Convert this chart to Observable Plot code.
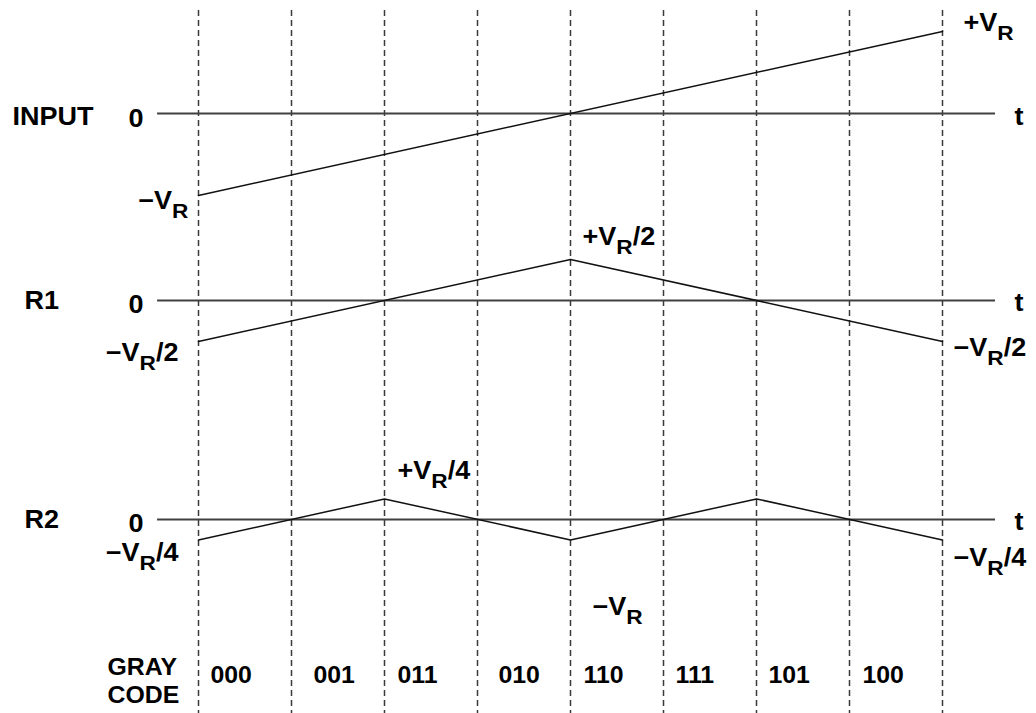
<!DOCTYPE html>
<html>
<head>
<meta charset="utf-8">
<script src="https://cdn.jsdelivr.net/npm/d3@7"></script>
<script src="https://cdn.jsdelivr.net/npm/@observablehq/plot@0.6"></script>
<style>
  html, body { margin: 0; padding: 0; background: #fff; }
  #chart svg { display: block; }
</style>
</head>
<body>
<div id="chart"></div>
<script>
// Comparator interval boundaries on the time axis (t = 0 … 8)
const intervalEdges = [0, 1, 2, 3, 4, 5, 6, 7, 8];
// Gray code output for each interval
const grayCodes = ["000", "001", "011", "010", "110", "111", "101", "100"];

// Waveforms, amplitudes in units of V_R
const inputT = [0, 8];
const inputV = [-1, 1];
const r1T = [0, 4, 8];
const r1V = [-0.5, 0.5, -0.5];
const r2T = [0, 2, 4, 6, 8];
const r2V = [-0.25, 0.25, -0.25, 0.25, -0.25];

const rowNames = ["INPUT", "R1", "R2"];

// ---- layout ----
// vertical baseline of each trace, in V_R units on the shared y scale
const rowBase = { INPUT: 0, R1: -2.28, R2: -4.95 };
const FONT = "'Liberation Sans', Arial, Helvetica, sans-serif";
const textStyle = { fontFamily: FONT, fontWeight: "bold", fontSize: 25, fill: "#000", lineAnchor: "bottom" };
const codeStyle = { ...textStyle, fontSize: 23 };
const TEXT_STRETCH = 1.08;
// left inset (px) of each Gray code inside its interval
const codeInset = [12, 22, 13, 21, 13, 12, 12, 13];

const traces = [
  ...inputT.map((t, i) => ({ row: "INPUT", t, v: inputV[i] })),
  ...r1T.map((t, i) => ({ row: "R1", t, v: r1V[i] })),
  ...r2T.map((t, i) => ({ row: "R2", t, v: r2V[i] }))
];

// value annotations: [text, row, t, value, anchor, dx, dy]
const valueLabels = [
  ["−V_R", "INPUT", inputT[0], inputV[0], "end", -10, 13],
  ["+V_R", "INPUT", inputT[1], inputV[1], "start", 21, -1],
  ["−V_R/2", "R1", r1T[0], r1V[0], "end", -20, 20],
  ["+V_R/2", "R1", r1T[1], r1V[1], "start", 12, -14],
  ["−V_R/2", "R1", r1T[2], r1V[2], "start", 11, 15],
  ["−V_R/4", "R2", r2T[0], r2V[0], "end", -20, 21],
  ["+V_R/4", "R2", r2T[1], r2V[1], "start", 13, -20],
  ["−V_R/4", "R2", r2T[4], r2V[4], "start", 11, 26]
];

const rowLabelDx = { INPUT: -186, R1: -174, R2: -174 };

const marks = [
  // dashed interval boundaries
  Plot.ruleX(intervalEdges, { stroke: "#3a3a3a", strokeWidth: 1.5, strokeDasharray: "6,4" }),
  // zero axis of each trace
  Plot.ruleY(rowNames, {
    y: (r) => rowBase[r], x1: -0.44, x2: 8.57,
    stroke: "#404040", strokeWidth: 2
  }),
  // waveforms
  Plot.line(traces, {
    x: "t", y: (d) => d.v + rowBase[d.row], z: "row",
    stroke: "#111", strokeWidth: 1.5
  }),
  // row names
  ...rowNames.map((r) => Plot.text([r], {
    x: () => 0, y: () => rowBase[r], text: (d) => d,
    textAnchor: "start", dx: rowLabelDx[r], dy: r === "INPUT" ? 11 : 9, ...textStyle
  })),
  // "0" at the left end of each zero axis
  Plot.text(rowNames, {
    x: () => 0, y: (r) => rowBase[r], text: () => "0",
    textAnchor: "start", dx: -70, dy: 13, ...textStyle
  }),
  // "t" at the right end of each zero axis
  Plot.text(rowNames, {
    x: () => 8, y: (r) => rowBase[r], text: () => "t",
    textAnchor: "start", dx: 72, dy: 11, ...textStyle
  }),
  // value annotations
  ...valueLabels.map(([text, row, t, v, anchor, dx, dy]) => Plot.text([text], {
    x: () => t, y: () => v + rowBase[row], text: (d) => d,
    textAnchor: anchor, dx, dy, ...textStyle
  })),
  // reference level marker beneath R2
  Plot.text(["−V_R"], {
    x: () => 4, y: () => rowBase.R2, text: (d) => d,
    textAnchor: "start", dx: 22, dy: 96, ...textStyle
  }),
  // Gray code row heading, two lines
  Plot.text(["GRAY"], {
    x: () => 0, y: () => rowBase.R2, text: (d) => d,
    textAnchor: "start", dx: -91, dy: 156, ...codeStyle
  }),
  Plot.text(["CODE"], {
    x: () => 0, y: () => rowBase.R2, text: (d) => d,
    textAnchor: "start", dx: -91, dy: 184, ...codeStyle
  }),
  // Gray code of each interval
  ...grayCodes.map((code, i) => Plot.text([code], {
    x: () => intervalEdges[i], y: () => rowBase.R2, text: (d) => d,
    textAnchor: "start", dx: codeInset[i], dy: 164, ...codeStyle
  }))
];

const chart = Plot.plot({
  width: 1036,
  height: 713,
  marginTop: 10,
  marginBottom: 0,
  marginLeft: 0,
  marginRight: 0,
  style: { background: "#fff", overflow: "visible" },
  x: { domain: [0, 8], range: [198, 942], axis: null },
  y: { domain: [0, 1], range: [113, 31], axis: null },
  marks
});

d3.select(chart).selectAll("text").each(function () {
  // slightly widened lettering
  const tr = this.getAttribute("transform") || "";
  this.setAttribute("transform", `${tr} scale(${TEXT_STRETCH},1)`);
  // render "_X" as a subscript
  const s = this.textContent;
  const m = s.match(/^(.*)_(\w)(.*)$/);
  if (!m) return;
  const el = d3.select(this);
  el.text(null);
  el.append("tspan").text(m[1]);
  el.append("tspan").attr("font-size", 21).attr("dy", 9).text(m[2]);
  if (m[3]) el.append("tspan").attr("dy", -9).text(m[3]);
});

document.getElementById("chart").appendChild(chart);
</script>
</body>
</html>
